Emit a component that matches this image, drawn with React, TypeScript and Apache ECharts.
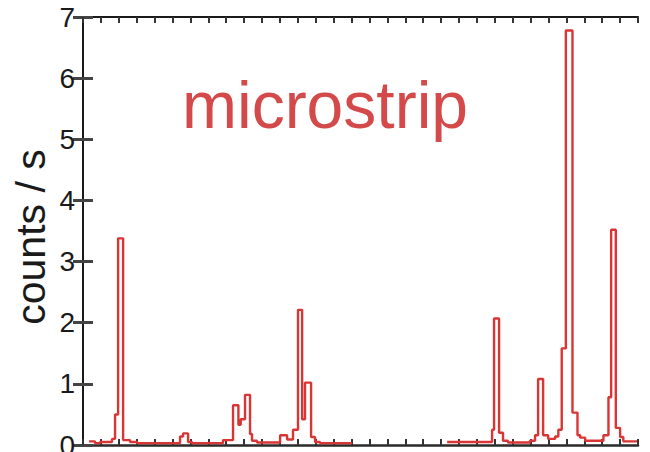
import React, { useEffect, useRef } from "react";
import * as echarts from "echarts";

// Histogram of counts/s; bin start positions (axis units 0..31) and counts per bin
const binStartA = [0.34, 0.67, 0.95, 1.62, 1.79, 1.96, 2.24, 2.63, 3.02, 5.42, 5.59, 5.87, 6.09, 7.82, 8.38, 8.68, 8.81, 9.05, 9.33, 9.44, 9.72, 11.01, 11.4, 11.73, 12.01, 12.24, 12.4, 12.74, 12.96, 13.24];
const countsA = [0.06, 0.03, 0.05, 0.1, 0.5, 3.38, 0.08, 0.05, 0.03, 0.14, 0.19, 0.05, 0.03, 0.08, 0.65, 0.33, 0.42, 0.82, 0.18, 0.07, 0.04, 0.16, 0.09, 0.25, 2.21, 0.42, 1.02, 0.13, 0.05, 0.03];
const endA = 15.03;

const binStartB = [20.34, 22.85, 22.96, 23.24, 23.46, 23.74, 24.97, 25.25, 25.42, 25.7, 25.98, 26.37, 26.55, 26.74, 26.97, 27.34, 27.62, 27.77, 28.05, 29.07, 29.35, 29.5, 29.76, 30.0, 30.18];
const countsB = [0.05, 0.25, 2.07, 0.2, 0.07, 0.04, 0.07, 0.16, 1.08, 0.16, 0.1, 0.14, 0.25, 1.58, 6.78, 0.53, 0.16, 0.12, 0.07, 0.16, 0.78, 3.52, 0.28, 0.13, 0.06];
const endB = 30.95;

const yTicks = [0, 1, 2, 3, 4, 5, 6, 7];
const xMin = 0;
const xMax = 31;
const yAxisTitle = "counts / s";
const panelLabel = "microstrip";

function stepPoints(starts: number[], vals: number[], end: number) {
  const pts: number[][] = starts.map((s, i) => [s, vals[i]]);
  pts.push([end, vals[vals.length - 1]]);
  return pts;
}

export default function App() {
  const ref = useRef<HTMLDivElement>(null);
  useEffect(() => {
    document.body.style.margin = "0";
    const chart = echarts.init(ref.current!, null, { renderer: "svg", width: 650, height: 452 });
    const font = "'Liberation Sans', Arial, Helvetica, sans-serif";
    const lineColor = "#d93535";
    const xAxisBase = {
      type: "value" as const,
      min: xMin,
      max: xMax,
      interval: 1,
      axisLine: { show: true, onZero: false, lineStyle: { color: "#2a2a2a", width: 2.5 } },
      axisTick: { show: true, inside: true, length: 6, lineStyle: { color: "#333", width: 2 } },
      axisLabel: { show: false },
      splitLine: { show: false },
    };
    const yAxisBase = {
      type: "value" as const,
      min: yTicks[0],
      max: yTicks[yTicks.length - 1],
      interval: 1,
      axisLine: { show: true, lineStyle: { color: "#1a1a1a", width: 2 } },
      axisTick: { show: true, inside: true, length: 10, lineStyle: { color: "#444", width: 3 } },
      splitLine: { show: false },
    };
    chart.setOption({
      animation: false,
      textStyle: { fontFamily: font },
      grid: { left: 83, right: 12, top: 17, bottom: 7, containLabel: false, outerBoundsMode: "none" },
      xAxis: [
        { ...xAxisBase, position: "bottom" },
        { ...xAxisBase, position: "top", axisLine: { show: true, onZero: false, lineStyle: { color: "#1a1a1a", width: 2 } } },
      ],
      yAxis: [
        {
          ...yAxisBase,
          position: "left",
          axisLabel: { show: true, fontSize: 28, color: "#1a1a1a", margin: 8, fontFamily: font },
        },
        { ...yAxisBase, position: "right", axisLabel: { show: false } },
      ],
      series: [
        {
          type: "line",
          step: "end",
          data: stepPoints(binStartA, countsA, endA),
          showSymbol: false,
          lineStyle: { color: lineColor, width: 2.4 },
          xAxisIndex: 0,
          yAxisIndex: 0,
        },
        {
          type: "line",
          step: "end",
          data: stepPoints(binStartB, countsB, endB),
          showSymbol: false,
          lineStyle: { color: lineColor, width: 2.4 },
          xAxisIndex: 0,
          yAxisIndex: 0,
        },
      ],
      graphic: [
        {
          type: "text",
          x: 31,
          y: 237,
          rotation: Math.PI / 2,
          style: {
            text: yAxisTitle,
            fontSize: 41,
            fontFamily: font,
            fill: "#1a1a1a",
            align: "center",
            verticalAlign: "middle",
          },
        },
        {
          type: "text",
          x: 325,
          y: 105,
          style: {
            text: panelLabel,
            fontSize: 66,
            fontFamily: font,
            fill: "#d44a4a",
            align: "center",
            verticalAlign: "middle",
          },
        },
      ],
    });
    return () => chart.dispose();
  }, []);
  return <div ref={ref} style={{ width: 650, height: 452, position: "absolute", left: 0, top: 0 }} />;
}
